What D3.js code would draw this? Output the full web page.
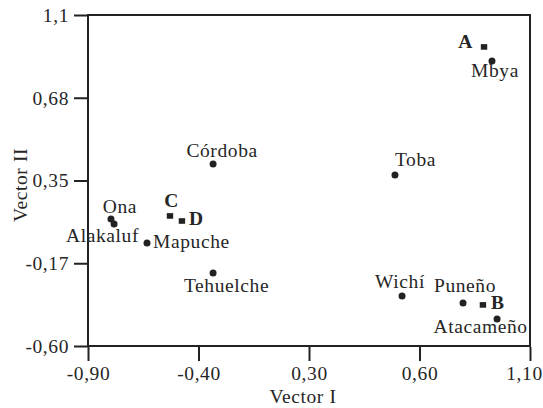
<!DOCTYPE html>
<html><head><meta charset="utf-8">
<script src="https://cdn.jsdelivr.net/npm/d3@7"></script>
<style>
html,body{margin:0;padding:0;background:#fff;}
svg text{font-family:"Liberation Serif","DejaVu Serif",serif;fill:#262626;letter-spacing:0.6px;}
</style></head>
<body><svg id="c" width="543" height="408"></svg>
<script>
// Data
const names   = ["A","Mbya","Córdoba","Toba","Ona","Alakaluf","C","D","Mapuche","Tehuelche","Wichí","Puneño","B","Atacameño"];
const vector1 = [0.892,0.928,-0.334,0.489,-0.796,-0.782,-0.529,-0.475,-0.633,-0.334,0.521,0.797,0.887,0.951];
const vector2 = [0.936,0.864,0.335,0.278,0.052,0.027,0.068,0.042,-0.071,-0.225,-0.343,-0.379,-0.389,-0.461];
const markers = ["square","circle","circle","circle","circle","circle","square","square","circle","circle","circle","circle","square","circle"];
const xTickValues = [-0.9,-0.4,0.1,0.6,1.1];
const xTickLabels = ["-0,90","-0,40","0,30","0,60","1,10"];
const yTickValues = [-0.6,-0.175,0.25,0.675,1.1];
const yTickLabels = ["-0,60","-0,17","0,35","0,68","1,1"];

// label placement (styling)
const labelPos = {
  "A":[-11,1,"end"], "Mbya":[3,16,"middle"], "Córdoba":[9,-7,"middle"], "Toba":[0,-9,"start"],
  "Ona":[9,-6,"middle"], "Alakaluf":[25,18,"end"], "C":[1.5,-9,"middle"], "D":[7,4,"start"],
  "Mapuche":[6,5,"start"], "Tehuelche":[13.5,19,"middle"], "Wichí":[-2,-8,"middle"],
  "Puneño":[2,-11,"middle"], "B":[8,4,"start"], "Atacameño":[-16.5,14,"middle"]
};

const svg = d3.select("#c");
const x = d3.scaleLinear().domain([-0.9,1.1]).range([88,530]);
const y = d3.scaleLinear().domain([-0.6,1.1]).range([346,15]);
const ink = "#222";

// frame
svg.append("rect").attr("x",x(-0.9)).attr("y",y(1.1)).attr("width",x(1.1)-x(-0.9)).attr("height",y(-0.6)-y(1.1))
  .attr("fill","none").attr("stroke",ink).attr("stroke-width",2);

const fs = 19.5;
const xAxis = d3.axisBottom(x).tickValues(xTickValues).tickSize(14).tickPadding(5)
  .tickFormat((d,i)=>xTickLabels[i]);
const gx = svg.append("g").attr("transform",`translate(0,${y(-0.6)+1})`).call(xAxis);
const yAxis = d3.axisLeft(y).tickValues(yTickValues).tickSize(14).tickPadding(5)
  .tickFormat((d,i)=>yTickLabels[i]);
const gy = svg.append("g").attr("transform",`translate(${x(-0.9)},0)`).call(yAxis);
[gx,gy].forEach(g=>{
  g.select(".domain").remove();
  g.selectAll(".tick line").attr("stroke",ink).attr("stroke-width",2);
  g.selectAll(".tick text").attr("font-size",fs).attr("fill","#262626")
   .style("font-family",'"Liberation Serif","DejaVu Serif",serif');
});
// last x label sits slightly left, as in the original
gx.selectAll(".tick text").filter((d,i)=>i===xTickValues.length-1).attr("dx",-6);

// axis titles
svg.append("text").attr("x",303).attr("y",403).attr("text-anchor","middle").attr("font-size",fs).text("Vector I");
svg.append("text").attr("transform",`translate(27,185) rotate(-90)`).attr("text-anchor","middle").attr("font-size",fs).text("Vector II");

// points
const data = names.map((n,i)=>({n, vx:vector1[i], vy:vector2[i], m:markers[i]}));
data.forEach(d=>{
  const px = x(d.vx), py = y(d.vy);
  if(d.m==="circle"){
    svg.append("circle").attr("cx",px).attr("cy",py).attr("r",3.5).attr("fill",ink);
  } else {
    svg.append("rect").attr("x",px-3.2).attr("y",py-2.8).attr("width",6.4).attr("height",5.6).attr("fill",ink);
  }
  const p = labelPos[d.n];
  svg.append("text").attr("x",px+p[0]).attr("y",py+p[1]).attr("text-anchor",p[2])
    .attr("font-size",fs).attr("font-weight", d.m==="square"?"bold":"normal").text(d.n);
});
</script></body></html>
